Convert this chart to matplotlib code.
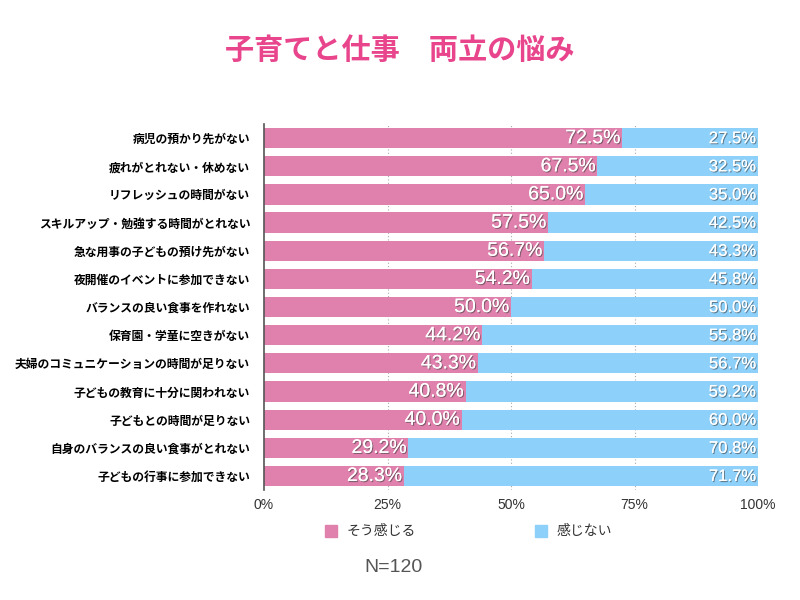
import numpy as np
import matplotlib
matplotlib.use('Agg')
import matplotlib.pyplot as plt
import matplotlib.patheffects as pe
from matplotlib.patches import Rectangle

plt.rcParams['font.family'] = ['Noto Sans CJK JP', 'DejaVu Sans']

categories = ['病児の預かり先がない', '疲れがとれない・休めない', 'リフレッシュの時間がない',
              'スキルアップ・勉強する時間がとれない', '急な用事の子どもの預け先がない',
              '夜開催のイベントに参加できない', 'バランスの良い食事を作れない',
              '保育園・学童に空きがない', '夫婦のコミュニケーションの時間が足りない',
              '子どもの教育に十分に関われない', '子どもとの時間が足りない',
              '自身のバランスの良い食事がとれない', '子どもの行事に参加できない']
yes_vals = [72.5, 67.5, 65.0, 57.5, 56.7, 54.2, 50.0, 44.2, 43.3, 40.8, 40.0, 29.2, 28.3]
no_vals = [27.5, 32.5, 35.0, 42.5, 43.3, 45.8, 50.0, 55.8, 56.7, 59.2, 60.0, 70.8, 71.7]
series_names = ['そう感じる', '感じない']
x_ticks = [0, 25, 50, 75, 100]

pink = '#E081AD'
blue = '#8DD1FB'
num_font = ['Liberation Sans', 'DejaVu Sans']

fig = plt.figure(figsize=(8, 6), dpi=100)
ax = fig.add_axes([0.33, 0.1833, 0.6175, 0.61])

y = np.arange(len(categories))
ax.barh(y, yes_vals, height=0.72, color=pink, zorder=2)
ax.barh(y, no_vals, left=yes_vals, height=0.72, color=blue, zorder=2)

shadow = [pe.withSimplePatchShadow(offset=(0.8, -0.8), shadow_rgbFace='#444444', alpha=0.6), pe.Normal()]
for i in range(len(categories)):
    ax.text(yes_vals[i] - 0.3, y[i] + 0.02, '%.1f%%' % yes_vals[i], ha='right', va='center',
            color='white', fontsize=14, family=num_font, path_effects=shadow, zorder=3)
    ax.text(99.6, y[i] + 0.02, '%.1f%%' % no_vals[i], ha='right', va='center',
            color='white', fontsize=12, family=num_font, path_effects=shadow, zorder=3)

ax.set_xlim(0, 100)
ax.set_ylim(len(categories) - 0.5, -0.5)
ax.set_yticks(y)
ax.set_yticklabels(categories, fontsize=8.5, fontweight='bold')
ax.set_xticks(x_ticks)
ax.set_xticklabels(['%d%%' % t for t in x_ticks], fontsize=10, color='#333333', family=num_font)
ax.tick_params(axis='y', length=0, pad=10)
ax.tick_params(axis='x', length=0, pad=6)
for t in x_ticks[1:]:
    ax.axvline(t, color='#aaaaaa', linestyle=(0, (1, 2)), linewidth=0.8, zorder=1)
for s in ['top', 'right', 'bottom']:
    ax.spines[s].set_visible(False)
ax.spines['left'].set_color('#555555')
ax.spines['left'].set_linewidth(1.2)
ax.spines['left'].set_zorder(4)

fig.text(0.5, 1 - 50 / 600, '子育てと仕事　両立の悩み', ha='center', va='center',
         fontsize=21, fontweight='bold', color='#E8458C')

# legend
fig.patches.append(Rectangle((325 / 800, 1 - 537 / 600), 12 / 800, 12 / 600,
                             transform=fig.transFigure, color=pink))
fig.text(347 / 800, 1 - 531 / 600, series_names[0], va='center', fontsize=10, color='#333333')
fig.patches.append(Rectangle((535 / 800, 1 - 537 / 600), 12 / 800, 12 / 600,
                             transform=fig.transFigure, color=blue))
fig.text(557 / 800, 1 - 531 / 600, series_names[1], va='center', fontsize=10, color='#333333')

fig.text(393 / 800, 1 - 568 / 600, 'N=120', ha='center', va='center', fontsize=14,
         color='#555555', family=num_font)

fig.savefig('out.png', dpi=100, facecolor='white')
